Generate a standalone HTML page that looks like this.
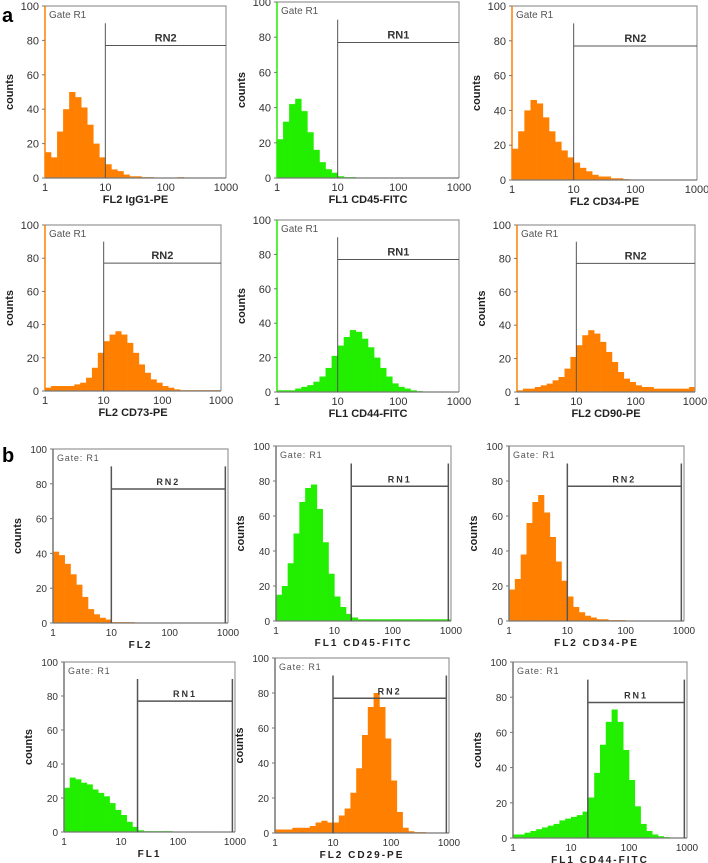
<!DOCTYPE html>
<html><head><meta charset="utf-8"><style>
html,body{margin:0;padding:0;background:#fff;}
svg{display:block;font-family:"Liberation Sans",Arial,sans-serif;}
</style></head><body>
<svg id="fig" width="708" height="863" viewBox="0 0 708 863" xmlns="http://www.w3.org/2000/svg">
<text x="2" y="22" font-size="20" font-weight="bold">a</text>
<text x="2" y="462" font-size="20" font-weight="bold">b</text>
</svg>
<script>
// Bin counts per 0.1 decade (log10 intensity 0..3)
const binStarts = [0,0.1,0.2,0.3,0.4,0.5,0.6,0.7,0.8,0.9,1.0,1.1,1.2,1.3,1.4,1.5,1.6,1.7,1.8,1.9,2.0,2.1,2.2,2.3,2.4,2.5,2.6,2.7,2.8,2.9];
const countsIgG1 = [15,12,27,40,50,47,41,31,20,12,8,5,4,2,1,1,0.5,0.5,0.3,0.3,0.3,0.3,0.5,0.3,0.2,0.2,0,0,0,0];
const countsCD45a = [22,32,42,45,38,26,16,9,5,3,1,0.5,0.5,0.3,0.3,0.3,0.3,0.3,0.2,0.2,0.2,0.2,0.2,0.2,0.2,0,0,0,0,0];
const countsCD34a = [18,28,40,46,44,36,28,22,17,13,10,7,5,3,2,2,1,1,0.5,0.3,0.2,0.2,0,0,0,0,0,0,0,0];
const countsCD73 = [2,3,3,3,3,4,5,8,14,23,30,34,36,34,29,23,16,11,7,5,3,2,1,0.5,0.5,0.5,0.5,0.5,0.5,0.5];
const countsCD44a = [1,1,1,2,3,4,6,9,14,21,27,32,36,35,31,26,20,14,9,5,3,2,1,0.5,0.3,0.3,0.3,0.3,0.3,0.3];
const countsCD90 = [1,2,2,3,4,5,7,9,14,21,28,34,37,35,30,24,18,12,8,6,4,3,3,2,2,2,2,2,2,3];
const countsFL2 = [41,39,34,28,22,15,8,5,3,2,0.5,0.5,0.5,0.5,0.3,0.3,0.3,0.3,0.3,0.3,0.3,0.3,0.3,0.3,0.3,0,0,0,0,0];
const countsCD45b = [15,20,33,50,68,76,78,64,45,27,14,8,4,2,1,1,1,1,1,1,1,1,1,1,1,1,1,1,1,1];
const countsCD34b = [18,24,38,56,68,72,62,48,34,23,14,8,5,3,2,1,1,0.5,0.5,0.5,0.3,0.3,0.3,0.3,0.3,0.3,0.3,0.3,0.3,0.3];
const countsFL1 = [26,32,31,29,28,25,23,21,17,13,10,6,3,1,0.5,0.5,0.5,0.5,0.5,0.3,0.3,0.3,0.3,0.3,0.3,0.3,0,0,0,0];
const countsCD29 = [2,2,2,3,3,3,4,6,7,6,6,10,14,23,37,56,72,80,72,54,30,12,3,1,0.5,0.5,0.3,0.3,0.3,0.3];
const countsCD44b = [2,2,3,4,5,6,7,8,10,11,12,13,15,23,37,53,66,73,66,50,33,18,8,4,2,1,0.5,0.3,0.3,0.3];
const yTicks = [0,20,40,60,80,100];
const xTicks = [1,10,100,1000];

const ORANGE = "#ff8000", GREEN = "#22ee00";
const panels = [
 {id:"a-igg1",x0:45,x1:226,y0:6,y1:178,data:countsIgG1,col:ORANGE,title:"FL2  IgG1-PE",gate:10,region:"RN2",gt:"Gate  R1",b:false},
 {id:"a-cd45",x0:277,x1:459,y0:2,y1:178,data:countsCD45a,col:GREEN,title:"FL1  CD45-FITC",gate:10,region:"RN1",gt:"Gate  R1",b:false},
 {id:"a-cd34",x0:512,x1:697,y0:6,y1:180,data:countsCD34a,col:ORANGE,title:"FL2  CD34-PE",gate:10,region:"RN2",gt:"Gate  R1",b:false},
 {id:"a-cd73",x0:45,x1:221,y0:225,y1:391,data:countsCD73,col:ORANGE,title:"FL2  CD73-PE",gate:10,region:"RN2",gt:"Gate  R1",b:false},
 {id:"a-cd44",x0:277,x1:459,y0:220,y1:392,data:countsCD44a,col:GREEN,title:"FL1  CD44-FITC",gate:10,region:"RN1",gt:"Gate  R1",b:false},
 {id:"a-cd90",x0:517,x1:695,y0:225,y1:392,data:countsCD90,col:ORANGE,title:"FL2  CD90-PE",gate:10,region:"RN2",gt:"Gate  R1",b:false},
 {id:"b-fl2",x0:53,x1:228,y0:449,y1:623,data:countsFL2,col:ORANGE,title:"FL2",gate:10,region:"RN2",gt:"Gate: R1",b:true},
 {id:"b-cd45",x0:276,x1:451,y0:446,y1:621,data:countsCD45b,col:GREEN,title:"FL1  CD45-FITC",gate:19.5,region:"RN1",gt:"Gate: R1",b:true},
 {id:"b-cd34",x0:509,x1:684,y0:446,y1:621,data:countsCD34b,col:ORANGE,title:"FL2  CD34-PE",gate:10,region:"RN2",gt:"Gate: R1",b:true},
 {id:"b-fl1",x0:64,x1:235,y0:662,y1:832,data:countsFL1,col:GREEN,title:"FL1",gate:19.5,region:"RN1",gt:"Gate: R1",b:true},
 {id:"b-cd29",x0:275,x1:449,y0:658,y1:833,data:countsCD29,col:ORANGE,title:"FL2  CD29-PE",gate:10,region:"RN2",gt:"Gate: R1",b:true},
 {id:"b-cd44",x0:513,x1:687,y0:662,y1:838,data:countsCD44b,col:GREEN,title:"FL1  CD44-FITC",gate:19.5,region:"RN1",gt:"Gate: R1",b:true}
];
const NS = "http://www.w3.org/2000/svg";
const svg = document.getElementById("fig");
function mk(tag, attrs, parent){const e=document.createElementNS(NS,tag);for(const k in attrs)e.setAttribute(k,attrs[k]);parent.appendChild(e);return e;}
panels.forEach(p=>{
  const g = mk("g",{},svg);
  
  
  const xs = v => p.x0 + (Math.log10(v)/3)*(p.x1-p.x0);
  const xl = l => p.x0 + (l/3)*(p.x1-p.x0);
  const ys = c => p.y1 - (c/100)*(p.y1-p.y0);
  p.data.forEach((c,i)=>{
    const x = xl(binStarts[i]), w = xl(binStarts[i]+0.1)-x;
    const r = mk("rect",{x:x,y:ys(c),width:w+0.3,height:p.y1-ys(c),fill:p.col},g);
    
    
  });
  const fr = mk("path",{d:`M${p.x0},${p.y0} H${p.x1} V${p.y1}`,fill:"none",stroke:"#999","stroke-width":1.2},g);
  
  
  const ya = mk("line",{x1:p.x0,y1:p.y0,x2:p.x0,y2:p.y1,stroke:p.b?"#777":p.col,"stroke-width":1.5},g);
  
  
  const xa = mk("line",{x1:p.x0,y1:p.y1,x2:p.x1,y2:p.y1,stroke:"#777","stroke-width":1.2},g);
  
  
  yTicks.forEach(t=>{
    const tl = mk("text",{x:p.x0-6,y:ys(t)+4,"font-size":p.b?10:11,"text-anchor":"end",fill:"#333"},g);
    tl.textContent = t;
    
    
    mk("line",{x1:p.x0-3,y1:ys(t),x2:p.x0,y2:ys(t),stroke:"#777"},g);
  });
  xTicks.forEach(t=>{
    const tl = mk("text",{x:xs(t),y:p.y1+13,"font-size":p.b?10:11,"text-anchor":"middle",fill:"#333"},g);
    tl.textContent = t;
    
    
  });
  const tt = mk("text",{x:(p.x0+p.x1)/2,y:p.y1+25,"font-size":p.b?10:11,"font-weight":"bold","text-anchor":"middle",fill:"#222","xml:space":"preserve","letter-spacing":p.b?2:0},g);
  tt.textContent = p.title;
  
  
  const cy = (p.y0+p.y1)/2;
  const yt = mk("text",{x:p.x0-32,y:cy,"font-size":11,"font-weight":"bold","text-anchor":"middle",transform:`rotate(-90 ${p.x0-32} ${cy})`,fill:"#222"},g);
  yt.textContent = "counts";
  
  
  const gl = mk("text",{x:p.x0+4,y:p.y0+12,"font-size":p.b?9:10,fill:"#555","xml:space":"preserve","letter-spacing":p.b?0.8:0},g);
  gl.textContent = p.gt;
  
  
  const gx = xs(p.gate), rx = p.b ? xs(900) : p.x1;
  const gTop = ys(90), hY = ys(77);
  const m = mk("path",{d:`M${gx},${gTop} V${p.y1} M${gx},${hY} H${rx}`+(p.b?` M${rx},${gTop} V${p.y1}`:""),fill:"none",stroke:"#555","stroke-width":p.b?1.5:1},g);
  
  
  const rl = mk("text",{x:(gx+rx)/2,y:hY-4,"font-size":p.b?9:11,"font-weight":"bold","text-anchor":"middle",fill:"#333","letter-spacing":p.b?2:0},g);
  rl.textContent = p.region;
  
  
});
</script>
</body></html>
